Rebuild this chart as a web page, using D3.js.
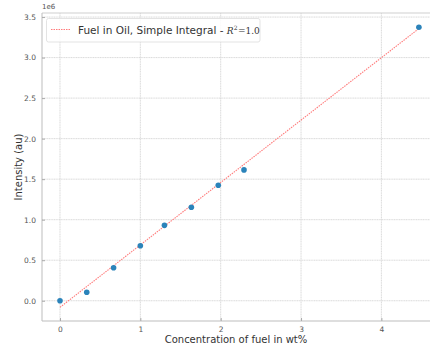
<!DOCTYPE html>
<html><head><meta charset="utf-8">
<script src="https://cdn.jsdelivr.net/npm/d3@7"></script>
<style>body{margin:0;background:#fff;} svg{display:block;font-family:"DejaVu Sans",sans-serif;}</style>
</head><body>
<svg id="c" width="430" height="349"></svg>
<script>
const concX = [0, 0.333, 0.667, 1.0, 1.30, 1.635, 1.97, 2.29, 4.467];
const intensityY = [0.0e6, 0.104e6, 0.407e6, 0.679e6, 0.93e6, 1.153e6, 1.425e6, 1.614e6, 3.375e6];
const fitX = [0, 4.467];
const fitY = [-0.081e6, 3.358e6];
const xTicks = [0, 1, 2, 3, 4];
const yTicks = [0, 0.5e6, 1.0e6, 1.5e6, 2.0e6, 2.5e6, 3.0e6, 3.5e6];
const legendLabel = "Fuel in Oil, Simple Integral - ";

const svg = d3.select("#c");
const L = 42, R = 432, T = 13, B = 321;
const x = d3.scaleLinear().domain([-0.224, 4.63]).range([L, R]);
const y = d3.scaleLinear().domain([-0.25e6, 3.55e6]).range([B, T]);

// grid
const g = svg.append("g");
g.selectAll(".gx").data(xTicks).join("line")
  .attr("x1", d => x(d)).attr("x2", d => x(d)).attr("y1", T).attr("y2", B)
  .attr("stroke", "#d6d6d6").attr("stroke-width", 0.9).attr("stroke-dasharray", "1.2,0.5");
g.selectAll(".gy").data(yTicks).join("line")
  .attr("x1", L).attr("x2", R).attr("y1", d => y(d)).attr("y2", d => y(d))
  .attr("stroke", "#d6d6d6").attr("stroke-width", 0.9).attr("stroke-dasharray", "1.2,0.5");

// spines
svg.append("line").attr("x1", L).attr("x2", R).attr("y1", T).attr("y2", T).attr("stroke", "#cfcfcf").attr("stroke-width", 1);
svg.append("line").attr("x1", L).attr("x2", R).attr("y1", B).attr("y2", B).attr("stroke", "#bdbdbd").attr("stroke-width", 1);
svg.append("line").attr("x1", L).attr("x2", L).attr("y1", T).attr("y2", B).attr("stroke", "#bdbdbd").attr("stroke-width", 1);

// axes
const xAxis = d3.axisBottom(x).tickValues(xTicks).tickFormat(d3.format("d")).tickSize(-3).tickPadding(6);
const yAxis = d3.axisLeft(y).tickValues(yTicks).tickFormat(d => (d / 1e6).toFixed(1)).tickSize(-3).tickPadding(6);
const xa = svg.append("g").attr("transform", `translate(0,${B})`).call(xAxis);
const ya = svg.append("g").attr("transform", `translate(${L},0)`).call(yAxis);
[xa, ya].forEach(a => {
  a.select(".domain").remove();
  a.selectAll(".tick line").attr("stroke", "#aaa");
  a.selectAll(".tick text").attr("fill", "#555").style("font-size", "7.5px").style("font-family", "DejaVu Sans");
});
svg.append("text").attr("x", L).attr("y", 9).attr("fill", "#555").style("font-size", "7px").text("1e6");

// axis labels
svg.append("text").attr("x", (L + 430) / 2).attr("y", 343).attr("text-anchor", "middle")
  .attr("fill", "#333").style("font-size", "10px").text("Concentration of fuel in wt%");
svg.append("text").attr("transform", `translate(22,${(T + B) / 2}) rotate(-90)`).attr("text-anchor", "middle")
  .attr("fill", "#333").style("font-size", "10px").text("Intensity (au)");

// fit line
const line = d3.line().x((d, i) => x(fitX[i])).y(d => y(d));
svg.append("path").attr("d", line(fitY)).attr("fill", "none").attr("stroke", "#ff7b7b")
  .attr("stroke-width", 1.1).attr("stroke-dasharray", "1.5,1");

// points
svg.selectAll(".pt").data(concX).join("circle")
  .attr("cx", d => x(d)).attr("cy", (d, i) => y(intensityY[i])).attr("r", 2.8)
  .attr("fill", "#2b83ba");

// legend
const lg = svg.append("g");
lg.append("rect").attr("x", 46.5).attr("y", 18.5).attr("width", 213.5).attr("height", 23.5).attr("rx", 2)
  .attr("fill", "rgba(255,255,255,0.85)").attr("stroke", "#e3e3e3").attr("stroke-width", 1);
lg.append("line").attr("x1", 51).attr("x2", 70).attr("y1", 29.5).attr("y2", 29.5)
  .attr("stroke", "#ff7b7b").attr("stroke-width", 1.1).attr("stroke-dasharray", "1.5,1");
const t = lg.append("text").attr("x", 78).attr("y", 33.5).attr("fill", "#333").style("font-size", "10.5px");
t.append("tspan").text(legendLabel);
t.append("tspan").style("font-family", "DejaVu Serif").style("font-style", "italic").style("font-size", "9px").text("R");
t.append("tspan").attr("dy", -4).style("font-size", "6px").style("font-family", "DejaVu Serif").text("2");
t.append("tspan").attr("dy", 4).attr("dx", 0.5).style("font-family", "DejaVu Serif").style("font-size", "9px").text("=1.0");
</script>
</body></html>
